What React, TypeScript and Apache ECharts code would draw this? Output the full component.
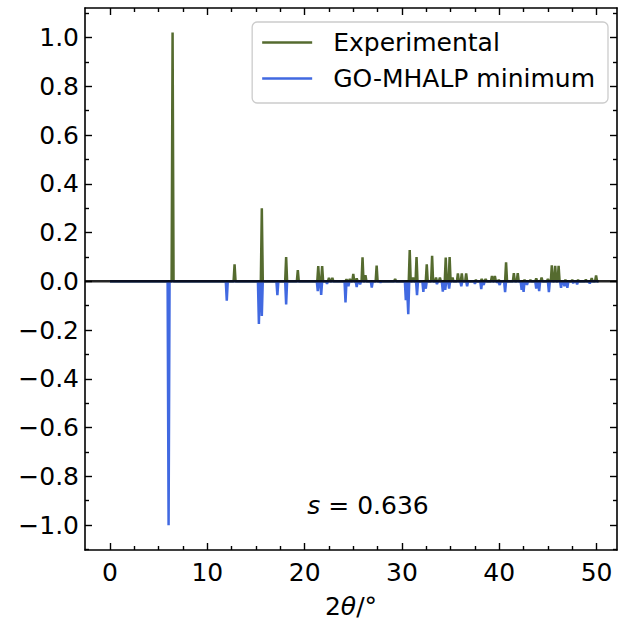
import React, { useEffect, useRef } from "react";
import * as echarts from "echarts";

// ---- data (peak positions in 2θ/°, heights normalised) ----
const expX = [6.43, 12.8, 15.6, 18.1, 19.3, 21.4, 21.8, 22.5, 22.85, 24.3, 24.65, 25.0, 25.35, 25.95, 26.25, 27.4, 29.3, 30.8, 31.15, 31.5, 32.55, 33.1, 33.5, 33.9, 34.5, 34.9, 35.2, 35.75, 36.15, 36.6, 37.6, 38.2, 38.6, 39.25, 39.55, 39.95, 40.7, 41.5, 41.9, 42.6, 43.2, 43.8, 44.35, 45.0, 45.4, 45.75, 46.1, 46.8, 47.5, 48.1, 48.9, 49.5, 49.95];
const expY = [1.02, 0.07, 0.30, 0.10, 0.046, 0.062, 0.062, 0.014, 0.014, 0.008, 0.01, 0.03, 0.012, 0.098, 0.025, 0.065, 0.01, 0.128, 0.015, 0.10, 0.07, 0.105, 0.015, 0.015, 0.097, 0.10, 0.015, 0.032, 0.032, 0.032, 0.005, 0.01, 0.01, 0.022, 0.022, 0.006, 0.078, 0.033, 0.033, 0.005, 0.005, 0.012, 0.015, 0.01, 0.066, 0.064, 0.064, 0.005, 0.005, 0.005, 0.007, 0.013, 0.024];

const simX = [6.02, 12.0, 15.3, 15.6, 17.2, 18.1, 21.35, 21.7, 22.3, 24.2, 24.5, 25.35, 25.7, 26.9, 27.8, 30.4, 30.65, 31.55, 32.2, 32.45, 33.6, 34.2, 34.45, 34.85, 36.1, 36.7, 37.5, 38.15, 38.4, 39.8, 40.05, 40.6, 42.3, 42.5, 42.85, 43.8, 44.1, 45.1, 46.35, 46.7, 47.0, 47.6, 48.0, 49.3];
const simY = [-1.0, -0.079, -0.175, -0.142, -0.057, -0.095, -0.04, -0.056, -0.01, -0.087, -0.02, -0.023, -0.012, -0.026, -0.005, -0.077, -0.135, -0.057, -0.043, -0.03, -0.011, -0.042, -0.035, -0.03, -0.02, -0.02, -0.01, -0.032, -0.015, -0.005, -0.015, -0.044, -0.035, -0.043, -0.015, -0.03, -0.04, -0.044, -0.027, -0.02, -0.027, -0.008, -0.012, -0.009];

const xMajorTicks = [0, 10, 20, 30, 40, 50];
const xMinorTicks = [2.5, 5, 7.5, 12.5, 15, 17.5, 22.5, 25, 27.5, 32.5, 35, 37.5, 42.5, 45, 47.5];
const yMajorTicks = [-1.0, -0.8, -0.6, -0.4, -0.2, 0.0, 0.2, 0.4, 0.6, 0.8, 1.0];
const yMinorTicks = [-1.1, -0.9, -0.7, -0.5, -0.3, -0.1, 0.1, 0.3, 0.5, 0.7, 0.9, 1.1];

const seriesNames = ["Experimental", "GO-MHALP minimum"];
const scoreLabel = "0.636";

const X_MIN = -2.57;
const X_MAX = 52.1;
const Y_MIN = -1.102;
const Y_MAX = 1.121;

const GREEN = "#556B2F";
const BLUE = "#4169E1";
const FONT = "DejaVu Sans";
const FS = 25;

function stickPattern(xs: number[], ys: number[], start: number, end: number, d = 0.1) {
  const pts: number[][] = [[start, 0]];
  xs.forEach((x, i) => {
    pts.push([x - d, 0], [x, ys[i]], [x + d, 0]);
  });
  pts.push([end, 0]);
  return pts;
}

const fmtY = (v: number) => {
  const s = Math.abs(v).toFixed(1);
  return v < -1e-9 ? "\u2212" + s : s;
};

export default function App() {
  const ref = useRef<HTMLDivElement>(null);
  useEffect(() => {
    if (!ref.current) return;
    const chart = echarts.init(ref.current, undefined, { renderer: "svg" });

    const spine = { show: true, onZero: false, lineStyle: { color: "#000", width: 1.6 } };
    const noLine = { show: false, onZero: false };
    const tickStyle = (len: number, vals: number[]) => ({
      show: true,
      inside: true,
      length: len,
      customValues: vals,
      lineStyle: { color: "#000", width: 1.4 },
    });

    const xBase = {
      type: "value" as const,
      min: X_MIN,
      max: X_MAX,
      splitLine: { show: false },
    };
    const yBase = {
      type: "value" as const,
      min: Y_MIN,
      max: Y_MAX,
      splitLine: { show: false },
    };

    chart.setOption({
      animation: false,
      backgroundColor: "#fff",
      grid: { left: 85, right: 4, top: 8, bottom: 71, containLabel: false },
      legend: {
        data: seriesNames,
        orient: "vertical",
        right: 13,
        top: 22,
        icon: "rect",
        itemWidth: 50,
        itemHeight: 2.5,
        itemGap: 9,
        padding: [7, 13, 11, 10],
        backgroundColor: "#fff",
        borderColor: "#cccccc",
        borderWidth: 1.3,
        borderRadius: 5,
        textStyle: {
          fontFamily: FONT,
          fontSize: FS,
          lineHeight: 27,
          color: "#000",
          padding: [0, 0, 0, 16],
        },
      },
      xAxis: [
        {
          ...xBase,
          position: "bottom",
          axisLine: spine,
          axisTick: tickStyle(7, xMajorTicks),
          axisLabel: {
            customValues: xMajorTicks,
            fontFamily: FONT,
            fontSize: FS,
            color: "#000",
            margin: 10,
          },
          name: "{a|2}{i|θ}{a|/°}",
          nameLocation: "middle",
          nameGap: 44,
          nameTextStyle: {
            rich: {
              a: { fontFamily: FONT, fontSize: FS, color: "#000" },
              i: { fontFamily: FONT, fontSize: FS, fontStyle: "italic", color: "#000" },
            },
          },
        },
        {
          ...xBase,
          position: "bottom",
          axisLine: noLine,
          axisTick: tickStyle(4, xMinorTicks),
          axisLabel: { show: false },
        },
        {
          ...xBase,
          position: "top",
          axisLine: spine,
          axisTick: tickStyle(7, xMajorTicks),
          axisLabel: { show: false },
        },
        {
          ...xBase,
          position: "top",
          axisLine: noLine,
          axisTick: tickStyle(4, xMinorTicks),
          axisLabel: { show: false },
        },
      ],
      yAxis: [
        {
          ...yBase,
          position: "left",
          axisLine: spine,
          axisTick: tickStyle(7, yMajorTicks),
          axisLabel: {
            customValues: yMajorTicks,
            formatter: fmtY,
            fontFamily: FONT,
            fontSize: FS,
            color: "#000",
            margin: 6,
          },
        },
        {
          ...yBase,
          position: "left",
          axisLine: noLine,
          axisTick: tickStyle(4, yMinorTicks),
          axisLabel: { show: false },
        },
        {
          ...yBase,
          position: "right",
          axisLine: spine,
          axisTick: tickStyle(7, yMajorTicks),
          axisLabel: { show: false },
        },
        {
          ...yBase,
          position: "right",
          axisLine: noLine,
          axisTick: tickStyle(4, yMinorTicks),
          axisLabel: { show: false },
        },
      ],
      series: [
        {
          name: seriesNames[0],
          type: "line",
          xAxisIndex: 0,
          yAxisIndex: 0,
          symbol: "none",
          data: stickPattern(expX, expY, 0, 50.2),
          lineStyle: { color: GREEN, width: 2.5 },
          itemStyle: { color: GREEN },
          z: 2,
        },
        {
          name: seriesNames[1],
          type: "line",
          xAxisIndex: 0,
          yAxisIndex: 0,
          symbol: "none",
          data: stickPattern(simX, simY, 0, 50.2),
          lineStyle: { color: BLUE, width: 2.5 },
          itemStyle: { color: BLUE },
          z: 3,
        },
        {
          name: "zero",
          type: "line",
          xAxisIndex: 0,
          yAxisIndex: 0,
          symbol: "none",
          data: [[X_MIN, 0], [X_MAX, 0]],
          lineStyle: { color: "#000", width: 2.5, opacity: 0.85 },
          z: 4,
          silent: true,
        },
      ],
      graphic: [
        {
          type: "text",
          x: 368,
          y: 505,
          style: {
            text: "{i|s}{n| = " + scoreLabel + "}",
            align: "center",
            verticalAlign: "middle",
            rich: {
              i: { fontFamily: FONT, fontSize: FS, fontStyle: "italic", fill: "#000" },
              n: { fontFamily: FONT, fontSize: FS, fill: "#000" },
            },
          },
        },
      ],
    });
    return () => chart.dispose();
  }, []);
  return (
    <div
      ref={ref}
      style={{ position: "fixed", left: 0, top: 0, width: 621, height: 624 }}
    />
  );
}
